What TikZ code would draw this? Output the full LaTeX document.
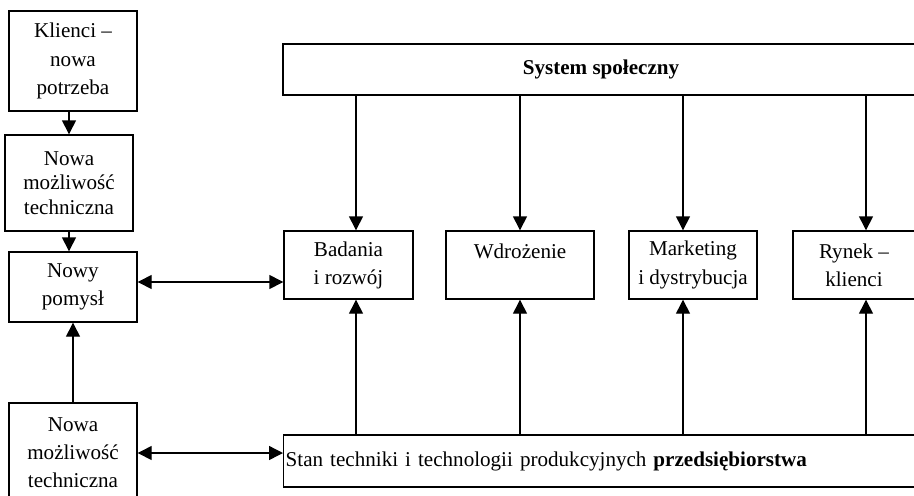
\documentclass[tikz,border=0pt]{standalone}
\usepackage{fontspec}
\setmainfont{Liberation Serif}
\usetikzlibrary{arrows.meta}
\begin{document}
\begin{tikzpicture}[thick,>={Triangle[length=0.28cm,width=0.28cm]},
    box node/.style={draw,align=center,inner sep=0.05cm,font=\fontsize{12}{16}\selectfont},
    left node/.style={box node,minimum width=2.56cm},
    mid node/.style={box node,minimum height=1.36cm}]
    \useasboundingbox (0,0) rectangle (18.28,-9.9);

    \node[left node,minimum height=2cm] at (1.46, -1.22) (klienci) {Klienci --\\nowa\\potrzeba};
    \node[left node,minimum height=1.92cm,font=\fontsize{12}{14}\selectfont] at (1.38, -3.66) (mozl1) {Nowa\\możliwość\\techniczna};
    \node[left node,minimum height=1.4cm] at (1.46, -5.74) (pomysl) {Nowy\\pomysł};
    \node[left node,minimum height=2cm] at (1.46, -9.06) (mozl2) {Nowa\\możliwość\\techniczna};

    \node[box node,minimum width=12.72cm,minimum height=1.02cm] at (12.02, -1.39) (system) {\textbf{System społeczny}};
    \node[mid node,minimum width=2.58cm] at (6.97, -5.3) (badania) {Badania\\i rozwój};
    \node[mid node,minimum width=2.96cm] at (10.4, -5.3) (wdrozenie) {Wdrożenie\\~};
    \node[mid node,minimum width=2.56cm] at (13.86, -5.3) (marketing) {Marketing\\i dystrybucja};
    \node[mid node,minimum width=2.44cm] at (17.08, -5.3) (rynek) {Rynek --\\klienci};
    \node[box node,anchor=west,align=left,text width=13cm,minimum height=1.04cm,inner sep=0.04cm] at (5.66, -9.22) (stan)
        {Stan techniki i technologii produkcyjnych \textbf{przedsiębiorstwa}};

    \draw[->] (mozl1.north |- klienci.south) -- (mozl1.north);
    \draw[->] (mozl1.south) -- (mozl1.south |- pomysl.north);
    \path[->] (mozl2) edge (pomysl);
    \draw[<->] ([yshift=0.1cm]pomysl.east) -- ([yshift=0.1cm]pomysl.east -| badania.west);
    \draw[<->] (mozl2.east) -- (mozl2.east -| stan.west);

    \foreach \n/\dx in {badania/0.15, wdrozenie/0, marketing/-0.2, rynek/0.24}{
        \draw[->] ([xshift=\dx cm]\n.north |- system.south) -- ([xshift=\dx cm]\n.north);
        \draw[->] ([xshift=\dx cm]\n.south |- stan.north) -- ([xshift=\dx cm]\n.south);
    }
\end{tikzpicture}
\end{document}
